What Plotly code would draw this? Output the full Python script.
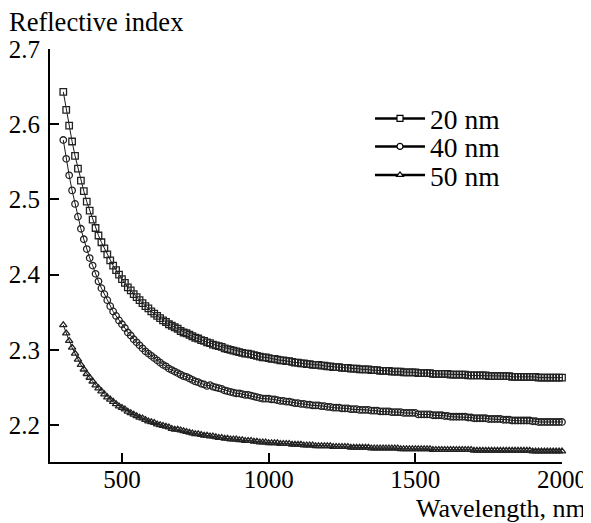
import plotly.graph_objects as go

# wavelength samples (nm), every 10 nm from 300 to 2000
wavelength = list(range(300, 2001, 10))

n_20nm = [
    2.643, 2.619, 2.598, 2.577, 2.558, 2.541, 2.525, 2.511, 2.497, 2.485,
    2.473, 2.462, 2.452, 2.443, 2.435, 2.427, 2.419, 2.412, 2.406, 2.400,
    2.394, 2.389, 2.383, 2.379, 2.374, 2.370, 2.366, 2.362, 2.358, 2.355,
    2.351, 2.348, 2.345, 2.342, 2.339, 2.337, 2.334, 2.332, 2.330, 2.328,
    2.325, 2.323, 2.322, 2.320, 2.318, 2.316, 2.315, 2.313, 2.312, 2.310,
    2.309, 2.307, 2.306, 2.305, 2.304, 2.302, 2.301, 2.300, 2.299, 2.298,
    2.297, 2.296, 2.295, 2.295, 2.294, 2.293, 2.292, 2.291, 2.290, 2.290,
    2.289, 2.288, 2.288, 2.287, 2.286, 2.286, 2.285, 2.285, 2.284, 2.283,
    2.283, 2.282, 2.282, 2.281, 2.281, 2.280, 2.280, 2.280, 2.279, 2.279,
    2.278, 2.278, 2.277, 2.277, 2.277, 2.276, 2.276, 2.276, 2.275, 2.275,
    2.275, 2.274, 2.274, 2.274, 2.274, 2.273, 2.273, 2.273, 2.272, 2.272,
    2.272, 2.272, 2.271, 2.271, 2.271, 2.271, 2.270, 2.270, 2.270, 2.270,
    2.270, 2.269, 2.269, 2.269, 2.269, 2.269, 2.268, 2.268, 2.268, 2.268,
    2.268, 2.268, 2.267, 2.267, 2.267, 2.267, 2.267, 2.267, 2.266, 2.266,
    2.266, 2.266, 2.266, 2.266, 2.266, 2.265, 2.265, 2.265, 2.265, 2.265,
    2.265, 2.265, 2.265, 2.264, 2.264, 2.264, 2.264, 2.264, 2.264, 2.264,
    2.264, 2.264, 2.263, 2.263, 2.263, 2.263, 2.263, 2.263, 2.263, 2.263,
    2.263,
]

n_40nm = [
    2.579, 2.554, 2.532, 2.512, 2.494, 2.477, 2.461, 2.447, 2.434, 2.422,
    2.412, 2.401, 2.391, 2.382, 2.374, 2.366, 2.358, 2.351, 2.345, 2.339,
    2.334, 2.329, 2.323, 2.319, 2.314, 2.310, 2.306, 2.302, 2.298, 2.295,
    2.292, 2.289, 2.286, 2.283, 2.280, 2.278, 2.275, 2.273, 2.271, 2.269,
    2.267, 2.265, 2.264, 2.262, 2.260, 2.258, 2.257, 2.255, 2.254, 2.252,
    2.253, 2.251, 2.250, 2.249, 2.248, 2.246, 2.245, 2.244, 2.243, 2.242,
    2.242, 2.241, 2.240, 2.240, 2.239, 2.238, 2.237, 2.236, 2.235, 2.235,
    2.235, 2.234, 2.234, 2.233, 2.232, 2.232, 2.231, 2.231, 2.230, 2.229,
    2.229, 2.228, 2.228, 2.227, 2.227, 2.226, 2.226, 2.226, 2.225, 2.225,
    2.224, 2.224, 2.223, 2.223, 2.223, 2.222, 2.222, 2.222, 2.221, 2.221,
    2.221, 2.220, 2.220, 2.220, 2.220, 2.219, 2.219, 2.219, 2.218, 2.218,
    2.218, 2.218, 2.217, 2.217, 2.217, 2.217, 2.216, 2.216, 2.216, 2.216,
    2.216, 2.214, 2.214, 2.214, 2.214, 2.214, 2.213, 2.213, 2.213, 2.213,
    2.212, 2.212, 2.211, 2.211, 2.211, 2.211, 2.211, 2.211, 2.210, 2.210,
    2.209, 2.209, 2.209, 2.209, 2.209, 2.208, 2.208, 2.208, 2.208, 2.208,
    2.207, 2.207, 2.207, 2.206, 2.206, 2.206, 2.206, 2.206, 2.206, 2.206,
    2.205, 2.205, 2.204, 2.204, 2.204, 2.204, 2.204, 2.204, 2.204, 2.204,
    2.204,
]

n_50nm = [
    2.333, 2.322, 2.312, 2.303, 2.295, 2.287, 2.280, 2.274, 2.268, 2.263,
    2.258, 2.253, 2.249, 2.245, 2.241, 2.237, 2.234, 2.231, 2.228, 2.225,
    2.223, 2.221, 2.218, 2.216, 2.214, 2.212, 2.210, 2.209, 2.207, 2.205,
    2.204, 2.203, 2.201, 2.200, 2.199, 2.198, 2.197, 2.195, 2.194, 2.194,
    2.193, 2.192, 2.191, 2.190, 2.189, 2.188, 2.188, 2.187, 2.186, 2.186,
    2.185, 2.185, 2.184, 2.183, 2.183, 2.182, 2.182, 2.181, 2.181, 2.181,
    2.180, 2.180, 2.179, 2.179, 2.179, 2.178, 2.178, 2.177, 2.177, 2.177,
    2.176, 2.176, 2.176, 2.176, 2.175, 2.175, 2.175, 2.175, 2.174, 2.174,
    2.174, 2.174, 2.173, 2.173, 2.173, 2.173, 2.172, 2.172, 2.172, 2.172,
    2.172, 2.172, 2.171, 2.171, 2.171, 2.171, 2.171, 2.171, 2.170, 2.170,
    2.170, 2.170, 2.170, 2.170, 2.170, 2.169, 2.169, 2.169, 2.169, 2.169,
    2.169, 2.169, 2.169, 2.169, 2.169, 2.168, 2.168, 2.168, 2.168, 2.168,
    2.168, 2.168, 2.168, 2.168, 2.168, 2.168, 2.167, 2.167, 2.167, 2.167,
    2.167, 2.167, 2.167, 2.167, 2.167, 2.167, 2.167, 2.167, 2.167, 2.167,
    2.166, 2.166, 2.166, 2.166, 2.166, 2.166, 2.166, 2.166, 2.166, 2.166,
    2.166, 2.166, 2.166, 2.166, 2.166, 2.166, 2.166, 2.166, 2.166, 2.166,
    2.165, 2.165, 2.165, 2.165, 2.165, 2.165, 2.165, 2.165, 2.165, 2.165,
    2.165,
]

series_names = ["20 nm", "40 nm", "50 nm"]
series_values = [n_20nm, n_40nm, n_50nm]
symbols = ["square-open", "circle-open", "triangle-up-open"]
legend_symbols = ["square", "circle", "triangle-up"]
legend_ids = ["legend", "legend2", "legend3"]

x_ticks = [500, 1000, 1500, 2000]
y_ticks = [2.2, 2.3, 2.4, 2.5, 2.6, 2.7]

FONT = "Liberation Serif"

fig = go.Figure()
for name, vals, sym in zip(series_names, series_values, symbols):
    fig.add_trace(go.Scatter(
        x=wavelength, y=vals, mode="lines+markers", name=name,
        showlegend=False, cliponaxis=False,
        line=dict(color="black", width=0.9),
        marker=dict(symbol=sym, size=6.5, color="#222", line=dict(width=1.3, color="#222")),
    ))

for name, sym, lid in zip(series_names, legend_symbols, legend_ids):
    fig.add_trace(go.Scatter(
        x=[None], y=[None], mode="lines+markers", name=name, legend=lid,
        line=dict(color="black", width=2.5),
        marker=dict(symbol=sym, size=6, color="white", line=dict(width=1.2, color="black")),
    ))

# the page body has an 8 px margin, so the figure is drawn 8 px in from the top-left
OFF = 8
PAGE_W, PAGE_H = 591, 523
W, H = PAGE_W - OFF, PAGE_H - OFF
# plot area in page pixels: x 50..562, y 49..462
PX0, PX1, PY0, PY1 = 50, 562, 49, 462
ml, mr, mt, mb = PX0 - OFF, (OFF + W) - PX1, PY0 - OFF, (OFF + H) - PY1
pw, ph = PX1 - PX0, PY1 - PY0

def px(xp):
    return (xp - PX0) / pw

def py(yp):
    return (PY1 - yp) / ph

legend_common = dict(
    font=dict(family=FONT, size=27.5, color="black"),
    bgcolor="rgba(0,0,0,0)", borderwidth=0,
    xanchor="left", yanchor="middle", itemwidth=50,
)

fig.update_layout(
    template="none",
    width=W, height=H,
    margin=dict(l=ml, r=mr, t=mt, b=mb, autoexpand=False),
    paper_bgcolor="white", plot_bgcolor="white",
    font=dict(family=FONT, size=25, color="black"),
    legend=dict(x=px(370), y=py(118.5), **legend_common),
    legend2=dict(x=px(370), y=py(146.5), **legend_common),
    legend3=dict(x=px(370), y=py(175), **legend_common),
    xaxis=dict(
        range=[254.7, 2000], tickvals=x_ticks, ticktext=[str(t) for t in x_ticks],
        showline=True, linecolor="black", linewidth=2, automargin=False,
        ticks="inside", ticklen=9, tickwidth=2, tickcolor="black",
        showgrid=False, zeroline=False, ticklabelstandoff=-6,
        tickfont=dict(family=FONT, size=25, color="black"),
    ),
    yaxis=dict(
        range=[2.1508, 2.7], tickvals=y_ticks, ticktext=[f"{t:.1f}" for t in y_ticks],
        showline=True, linecolor="black", linewidth=2, automargin=False,
        ticks="inside", ticklen=9, tickwidth=2, tickcolor="black",
        showgrid=False, zeroline=False, ticklabelstandoff=3,
        tickfont=dict(family=FONT, size=25, color="black"),
    ),
    annotations=[
        dict(text="Reflective index", xref="paper", yref="paper",
             x=px(8), y=py(22), xanchor="left", yanchor="middle", borderpad=0,
             showarrow=False, font=dict(family=FONT, size=26.5, color="black")),
        dict(text="Wavelength, nm", xref="paper", yref="paper",
             x=px(587), y=py(508), xanchor="right", yanchor="middle", borderpad=0,
             showarrow=False, font=dict(family=FONT, size=26, color="black")),
    ],
)

fig.write_html("out.html")
